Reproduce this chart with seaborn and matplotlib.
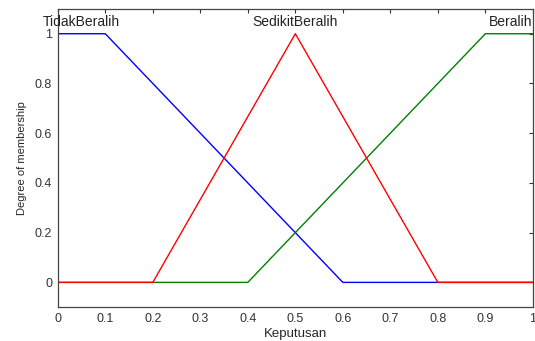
import numpy as np
import pandas as pd
import matplotlib
matplotlib.use("Agg")
import matplotlib.pyplot as plt
import seaborn as sns

# ── data: membership function breakpoints ──────────────
x_tidak = [0.0, 0.1, 0.6, 1.0]
y_tidak = [1.0, 1.0, 0.0, 0.0]
x_sedikit = [0.0, 0.2, 0.5, 0.8, 1.0]
y_sedikit = [0.0, 0.0, 1.0, 0.0, 0.0]
x_beralih = [0.0, 0.4, 0.9, 1.0]
y_beralih = [0.0, 0.0, 1.0, 1.0]

mf_names = ["TidakBeralih", "SedikitBeralih", "Beralih"]
mf_colors = ["#0000ff", "#ff0000", "#008000"]
label_x = [0.049, 0.5, 1.0]
xticks = [0, 0.1, 0.2, 0.3, 0.4, 0.5, 0.6, 0.7, 0.8, 0.9, 1]
yticks = [0, 0.2, 0.4, 0.6, 0.8, 1]

df = pd.concat([
    pd.DataFrame({"x": x_tidak, "y": y_tidak, "mf": mf_names[0]}),
    pd.DataFrame({"x": x_sedikit, "y": y_sedikit, "mf": mf_names[1]}),
    pd.DataFrame({"x": x_beralih, "y": y_beralih, "mf": mf_names[2]}),
], ignore_index=True)

sns.set_style("white")
plt.rcParams["font.family"] = ["Liberation Sans", "DejaVu Sans"]

fig = plt.figure(figsize=(5.35, 3.41), dpi=100)
ax = fig.add_axes([0.108, 0.099, 0.888, 0.875])

# draw order: blue, green, red (red ends up on top at y=0)
sns.lineplot(data=df, x="x", y="y", hue="mf",
             hue_order=["TidakBeralih", "Beralih", "SedikitBeralih"],
             palette=dict(zip(mf_names, mf_colors)),
             sort=False, estimator=None, linewidth=1.0, legend=False, ax=ax)

ax.set_xlim(0, 1)
ax.set_ylim(-0.1, 1.1)
ax.set_xticks(xticks)
ax.set_xticklabels([f"{t:g}" for t in xticks])
ax.set_yticks(yticks)
ax.set_yticklabels([f"{t:g}" for t in yticks])
ax.tick_params(direction="in", length=3, labelsize=9, colors="#333333",
               top=True, right=True, pad=4)

for s in ax.spines.values():
    s.set_color("#444444")
    s.set_linewidth(0.9)

# MF labels above the plot area
for name, lx in zip(mf_names, label_x):
    ha = "right" if lx >= 1.0 else "center"
    ax.text(lx, 1.048, name, ha=ha, va="center", fontsize=10, color="#222222")

ax.set_xlabel("Keputusan", fontsize=9.5, labelpad=2)
ax.set_ylabel("Degree of membership", fontsize=8, labelpad=6)

plt.savefig("out.png", dpi=100)
plt.close()
